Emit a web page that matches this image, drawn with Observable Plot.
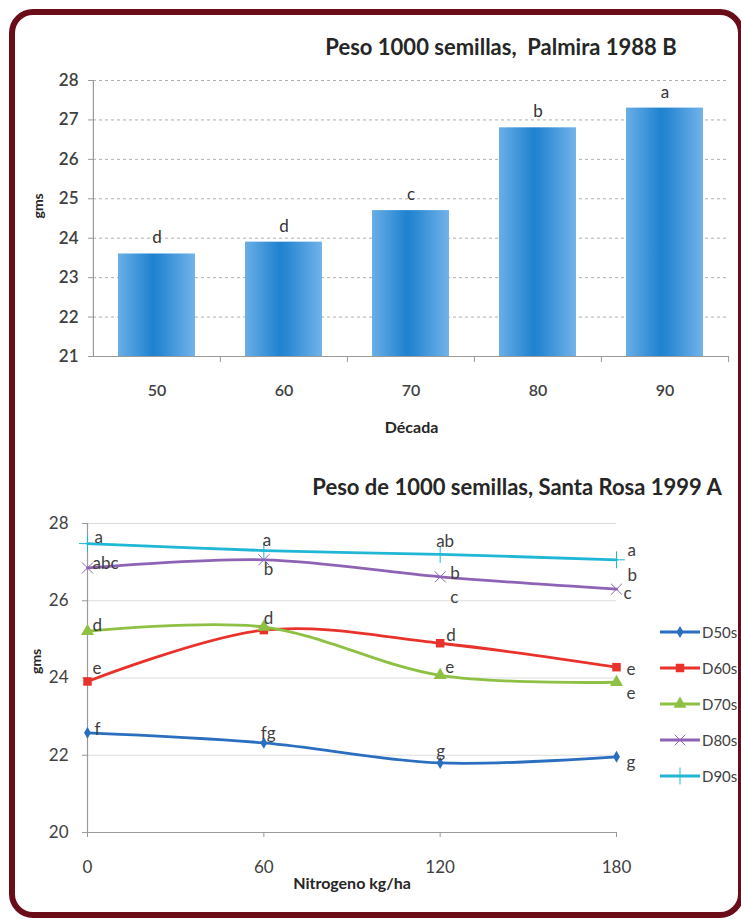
<!DOCTYPE html>
<html><head><meta charset="utf-8">
<script src="https://cdn.jsdelivr.net/npm/d3@7"></script>
<script src="https://cdn.jsdelivr.net/npm/@observablehq/plot@0.6"></script>
<style>
html,body{margin:0;padding:0;background:#fff;overflow:hidden;}
#page{position:relative;width:741px;height:919px;overflow:hidden;font-family:Lato,"Open Sans",sans-serif;background:#fff;}
#frame{position:absolute;left:9px;top:9px;width:735px;height:909px;box-sizing:border-box;border:6px solid #6b0d18;border-radius:24px;}
.abs{position:absolute;}
.title{font-weight:700;font-size:22px;color:#262626;text-align:center;white-space:pre;line-height:24px;}
.leg{position:absolute;display:flex;align-items:center;font-size:15px;color:#404040;white-space:nowrap;line-height:18px;}
</style></head>
<body><div id="page"><div id="frame"></div></div>
<script>
// ---------- Top chart data ----------
const decades = ["50", "60", "70", "80", "90"];
const seedWeight = [23.6, 23.9, 24.7, 26.8, 27.3];
const barLetters = ["d", "d", "c", "b", "a"];
const topYTicks = [21, 22, 23, 24, 25, 26, 27, 28];

// ---------- Bottom chart data ----------
const nitrogen = [0, 60, 120, 180];
const seriesNames = ["D50s", "D60s", "D70s", "D80s", "D90s"];
const d50 = [22.58, 22.32, 21.80, 21.96];
const d60 = [23.91, 25.24, 24.90, 24.28];
const d70 = [25.21, 25.32, 24.07, 23.89];
const d80 = [26.85, 27.06, 26.62, 26.30];
const d90 = [27.48, 27.30, 27.20, 27.06];
const d50Letters = ["f", "fg", "g", "g"];
const d60Letters = ["e", "", "d", "e"];
const d70Letters = ["d", "d", "e", "e"];
const d80Letters = ["abc", "b", "b", "b"];
const d80Extra = ["", "", "c", "c"];
const d90Letters = ["a", "a", "ab", "a"];
const bottomYTicks = [20, 22, 24, 26, 28];

const page = document.getElementById("page");
const font = "Lato, 'Open Sans', sans-serif";

// ---------- Top chart ----------
{
  const W = 741, H = 390, mL = 93, mR = 12, mT = 20, mB = 94;
  const step = (W - mL - mR) / decades.length;
  const table = decades.map((d, i) => ({decade: d, weight: seedWeight[i], letter: barLetters[i]}));
  const svg = Plot.plot({
    width: W, height: H, marginLeft: mL, marginRight: mR, marginTop: mT, marginBottom: mB,
    style: {fontFamily: font, fontSize: "16px", color: "#404040", background: "transparent", overflow: "visible"},
    x: {domain: decades, paddingInner: 0.39, paddingOuter: 0.195},
    y: {domain: [21, 28]},
    marks: [
      Plot.ruleY(topYTicks.filter(t => t > 21), {stroke: "#b0b0b0", strokeDasharray: "3,3", strokeWidth: 1}),
      Plot.barY(table, {x: "decade", y: "weight", fill: "url(#barGrad)", clip: true}),
      Plot.ruleY([21], {stroke: "#9a9a9a", strokeWidth: 1.2}),
      Plot.ruleX([decades[0]], {dx: -step / 2, y1: 21, y2: 28, stroke: "#9a9a9a", strokeWidth: 1.2}),
      Plot.ruleX(decades.slice(1), {dx: -step / 2, y1: 21, y2: 21, insetBottom: -6, stroke: "#9a9a9a"}),
      Plot.ruleX([decades[decades.length - 1]], {dx: step / 2, y1: 21, y2: 21, insetBottom: -6, stroke: "#9a9a9a"}),
      Plot.text(table, {x: "decade", y: "weight", text: "letter", dy: -16, fontSize: 17, fill: "#333"}),
      Plot.axisY({ticks: topYTicks, tickFormat: d => String(d), tickSize: 5, tickPadding: 10, label: null, stroke: "#9a9a9a", fontWeight: 600, fontSize: 17}),
      Plot.axisX({tickSize: 0, tickPadding: 28, label: null, fontWeight: 600, fontSize: 16}),
      Plot.text(["Década"], {frameAnchor: "bottom", dy: 76, fontWeight: 700, fontSize: 16, fill: "#262626"}),
      Plot.text(["gms"], {frameAnchor: "left", dx: -55, rotate: -90, fontWeight: 700, fontSize: 14, fill: "#262626"})
    ]
  });
  const defs = d3.select(svg).insert("defs", ":first-child");
  const g = defs.append("linearGradient").attr("id", "barGrad").attr("x1", "0").attr("x2", "1").attr("y1", "0").attr("y2", "0");
  [["0%", "#6aaee6"], ["45%", "#1f82d0"], ["55%", "#2a88d3"], ["100%", "#72b3ea"]].forEach(([o, c]) =>
    g.append("stop").attr("offset", o).attr("stop-color", c));
  svg.style.position = "absolute"; svg.style.left = "0px"; svg.style.top = "60px";
  page.appendChild(svg);
  const t = document.createElement("div");
  t.className = "abs title";
  t.style.left = "251px"; t.style.width = "500px"; t.style.top = "35px";
  t.textContent = "Peso 1000 semillas,  Palmira 1988 B";
  page.appendChild(t);
}

// ---------- Bottom chart ----------
{
  const W = 741, H = 410, mL = 87, mR = 125, mT = 23, mB = 78;
  const colors = ["#2a6ebf", "#e8322b", "#8dc043", "#8e63b5", "#20b7d6"];
  const values = [d50, d60, d70, d80, d90];
  const letters = [d50Letters, d60Letters, d70Letters, d80Letters, d90Letters];
  const symbols = ["diamond", "square", "triangle", "times", "plus"];
  const sizes = [3.6, 4.8, 4.8, 5, 5.5];
  const rows = [];
  seriesNames.forEach((s, k) => nitrogen.forEach((n, i) => rows.push({series: s, n, v: values[k][i]})));

  // label offsets (pixels) per series / point
  const offsets = [
    [[7, -3], [-3, -9], [-4, -11], [10, 6]],
    [[5, -13], [0, 0], [6, -8], [10, 2]],
    [[5, -6], [0, -8], [5, -8], [10, 11]],
    [[5, -4], [0, 10], [10, -3], [11, -14]],
    [[7, -6], [-1, -10], [-4, -13], [11, -9]]
  ];
  const extraOffsets = [[0, 0], [0, 0], [10, 21], [7, 4]];
  const labelStyle = {textAnchor: "start", fontSize: 17, fill: "#404040"};

  const marks = [
    Plot.ruleY(bottomYTicks.filter(t => t > 20), {stroke: "#dcdcdc", strokeWidth: 1}),
    Plot.ruleY([20], {stroke: "#9a9a9a", strokeWidth: 1.2}),
    Plot.ruleX([0], {stroke: "#9a9a9a", strokeWidth: 1.2}),
    Plot.axisY({ticks: bottomYTicks, tickSize: 5, tickPadding: 14, label: null, stroke: "#9a9a9a", fontSize: 17}),
    Plot.axisX({ticks: nitrogen, tickSize: 5, tickPadding: 23, label: null, stroke: "#9a9a9a", fontSize: 17}),
    Plot.line(rows, {x: "n", y: "v", z: "series", stroke: "series", curve: "catmull-rom", strokeWidth: 2.8})
  ];
  seriesNames.forEach((s, k) => {
    const pts = rows.filter(r => r.series === s);
    const stroked = symbols[k] === "times" || symbols[k] === "plus";
    marks.push(Plot.dot(pts, {x: "n", y: "v", symbol: () => symbols[k], r: sizes[k],
      fill: stroked ? "none" : colors[k], stroke: stroked ? colors[k] : "none", strokeWidth: stroked ? 1 : 0}));
    pts.forEach((p, i) => {
      if (letters[k][i]) {
        marks.push(Plot.text([{n: p.n, v: p.v, t: letters[k][i]}], {x: "n", y: "v", text: "t",
          dx: offsets[k][i][0], dy: offsets[k][i][1], ...labelStyle}));
      }
      if (s === "D80s" && d80Extra[i]) {
        marks.push(Plot.text([{n: p.n, v: p.v, t: d80Extra[i]}], {x: "n", y: "v", text: "t",
          dx: extraOffsets[i][0], dy: extraOffsets[i][1], ...labelStyle}));
      }
    });
  });
  marks.push(Plot.text(["Nitrogeno kg/ha"], {frameAnchor: "bottom", dy: 56, fontWeight: 700, fontSize: 16, fill: "#262626"}));
  marks.push(Plot.text(["gms"], {frameAnchor: "left", dx: -51, dy: -4, rotate: -90, fontWeight: 700, fontSize: 14, fill: "#262626"}));

  const svg = Plot.plot({
    width: W, height: H, marginLeft: mL, marginRight: mR, marginTop: mT, marginBottom: mB,
    style: {fontFamily: font, fontSize: "16px", color: "#404040", background: "transparent", overflow: "visible"},
    x: {domain: [0, 180]},
    y: {domain: [20, 28]},
    color: {domain: seriesNames, range: colors},
    marks
  });
  svg.style.position = "absolute"; svg.style.left = "0px"; svg.style.top = "500px";
  page.appendChild(svg);

  const t = document.createElement("div");
  t.className = "abs title";
  t.style.left = "267px"; t.style.width = "500px"; t.style.top = "475px";
  t.textContent = "Peso de 1000 semillas, Santa Rosa 1999 A";
  page.appendChild(t);

  // legend
  const legY = [632, 668, 704, 740, 776];
  seriesNames.forEach((s, k) => {
    const row = document.createElement("div");
    row.className = "leg";
    row.style.left = "660px"; row.style.top = (legY[k] - 9) + "px";
    const ns = "http://www.w3.org/2000/svg";
    const sw = document.createElementNS(ns, "svg");
    sw.setAttribute("width", "41"); sw.setAttribute("height", "18");
    const ln = document.createElementNS(ns, "line");
    ln.setAttribute("x1", "0"); ln.setAttribute("x2", "40"); ln.setAttribute("y1", "9"); ln.setAttribute("y2", "9");
    ln.setAttribute("stroke", colors[k]); ln.setAttribute("stroke-width", "2.8");
    sw.appendChild(ln);
    const symMap = {diamond: d3.symbolDiamond, square: d3.symbolSquare, triangle: d3.symbolTriangle, times: d3.symbolTimes, plus: d3.symbolPlus};
    const stroked = symbols[k] === "times" || symbols[k] === "plus";
    const p = document.createElementNS(ns, "path");
    p.setAttribute("d", d3.symbol(symMap[symbols[k]], Math.PI * sizes[k] * sizes[k])());
    p.setAttribute("transform", "translate(20,9)");
    p.setAttribute("fill", stroked ? "none" : colors[k]);
    p.setAttribute("stroke", stroked ? colors[k] : "none");
    sw.appendChild(p);
    row.appendChild(sw);
    const tx = document.createElement("span");
    tx.textContent = s;
    tx.style.marginLeft = "1px";
    row.appendChild(tx);
    page.appendChild(row);
  });
}
</script></body></html>
